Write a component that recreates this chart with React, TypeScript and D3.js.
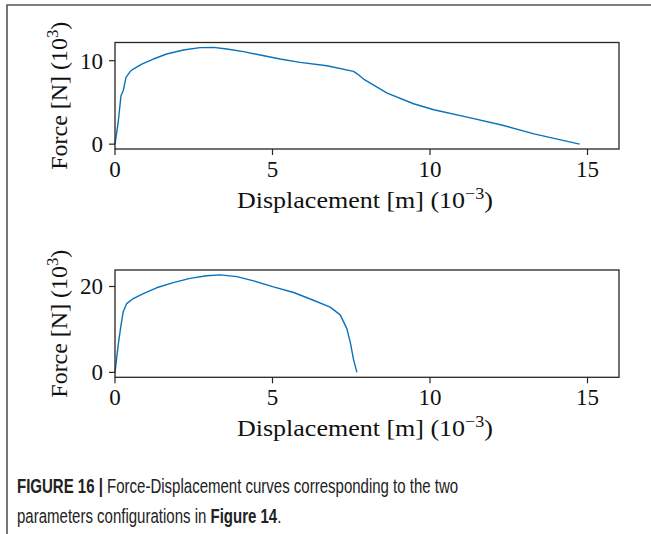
import React from "react";
import * as d3 from "d3";

// Top panel: displacement (10^-3 m) and force (10^3 N)
const disp1 = [0, 0.1, 0.19, 0.26, 0.35, 0.48, 0.58, 0.85, 1.22, 1.64, 2.17, 2.7, 3.13, 3.55, 4.08, 4.61, 5.24, 5.88, 6.73, 7.57, 7.7, 7.89, 8.64, 9.48, 10.12, 11.18, 12.24, 13.3, 14.75];
const force1 = [0, 2.6, 5.8, 6.4, 8.0, 8.7, 9.0, 9.6, 10.2, 10.8, 11.28, 11.56, 11.6, 11.4, 11.08, 10.68, 10.2, 9.8, 9.4, 8.72, 8.4, 7.8, 6.12, 4.84, 4.12, 3.24, 2.32, 1.24, 0];

// Bottom panel
const disp2 = [0, 0.1, 0.18, 0.26, 0.37, 0.58, 0.9, 1.32, 1.85, 2.38, 2.91, 3.34, 3.87, 4.4, 5.03, 5.67, 6.3, 6.83, 7.15, 7.36, 7.47, 7.57, 7.68];
const force2 = [0, 6.3, 10.5, 14.1, 16.0, 17.2, 18.35, 19.7, 20.9, 21.9, 22.5, 22.7, 22.3, 21.3, 19.9, 18.6, 16.8, 15.2, 13.4, 10.2, 7.0, 3.1, 0];

const xTicks = [0, 5, 10, 15];
const yTicks1 = [0, 10];
const yTicks2 = [0, 20];

const SERIF = "'Liberation Serif', 'DejaVu Serif', serif";
const SANS = "'Liberation Sans', Arial, sans-serif";
const LINE = "#0a72bb";
const AX = "#262626";

type PanelProps = {
  xs: number[];
  ys: number[];
  yDomain: [number, number];
  yTicks: number[];
  top: number;
  bottom: number;
};

const Panel = ({ xs, ys, yDomain, yTicks, top, bottom }: PanelProps) => {
  const left = 115;
  const right = 619;
  const x = d3.scaleLinear().domain([0, 16]).range([left, right]);
  const y = d3.scaleLinear().domain(yDomain).range([bottom, top]);
  const pts: [number, number][] = xs.map((v, i) => [v, ys[i]]);
  const line = d3
    .line<[number, number]>()
    .x((d) => x(d[0]))
    .y((d) => y(d[1]));
  const cy = (top + bottom) / 2;
  const cx = (left + right) / 2;
  return (
    <g>
      <path d={line(pts) || ""} fill="none" stroke={LINE} strokeWidth={1.4} strokeLinejoin="round" />
      <rect x={left} y={top} width={right - left} height={bottom - top} fill="none" stroke={AX} strokeWidth={1.3} />
      {xTicks.map((t) => (
        <g key={"x" + t}>
          <line x1={x(t)} x2={x(t)} y1={bottom} y2={bottom + 6} stroke={AX} strokeWidth={1.2} />
          <text x={x(t)} y={bottom + 28} textAnchor="middle" fontFamily={SERIF} fontSize={23} fill="#111">
            {t}
          </text>
        </g>
      ))}
      {yTicks.map((t) => (
        <g key={"y" + t}>
          <line x1={left - 6} x2={left} y1={y(t)} y2={y(t)} stroke={AX} strokeWidth={1.2} />
          <text x={left - 12} y={y(t)} dy="0.34em" textAnchor="end" fontFamily={SERIF} fontSize={23} fill="#111">
            {t}
          </text>
        </g>
      ))}
      <text
        x={cx - 2}
        y={bottom + 59}
        textAnchor="middle"
        fontFamily={SERIF}
        fontSize={23}
        fill="#111"
        textLength={256}
        lengthAdjust="spacingAndGlyphs"
      >
        Displacement [m] (10
        <tspan dy={-9} fontSize={16}>−3</tspan>
        <tspan dy={9}>)</tspan>
      </text>
      <text
        transform={`translate(67,${cy}) rotate(-90)`}
        textAnchor="middle"
        fontFamily={SERIF}
        fontSize={23}
        fill="#111"
        textLength={148}
        lengthAdjust="spacingAndGlyphs"
      >
        Force [N] (10
        <tspan dy={-9} fontSize={16}>3</tspan>
        <tspan dy={9}>)</tspan>
      </text>
    </g>
  );
};

export default function App() {
  return (
    <div style={{ position: "absolute", left: 0, top: 0 }}>
      <svg width={651} height={534} style={{ display: "block", background: "#fff" }}>
        <rect x={0} y={0} width={651} height={534} fill="#fff" />
        <path d="M7,540 L7,5 L660,5" fill="none" stroke="#555" strokeWidth={1.6} />
        <Panel xs={disp1} ys={force1} yDomain={[-0.58, 12.18]} yTicks={yTicks1} top={42.5} bottom={149} />
        <Panel xs={disp2} ys={force2} yDomain={[-1.14, 23.84]} yTicks={yTicks2} top={270} bottom={377.3} />
        <g transform="translate(17,0) scale(0.77,1)">
          <text x={0} y={493} fontFamily={SANS} fontSize={19.5} fill="#222">
            <tspan fontWeight="bold">FIGURE 16 | </tspan>
            <tspan>Force-Displacement curves corresponding to the two</tspan>
          </text>
          <text x={0} y={523} fontFamily={SANS} fontSize={19.5} fill="#222">
            <tspan>parameters configurations in </tspan>
            <tspan fontWeight="bold">Figure 14</tspan>
            <tspan>.</tspan>
          </text>
        </g>
      </svg>
    </div>
  );
}
